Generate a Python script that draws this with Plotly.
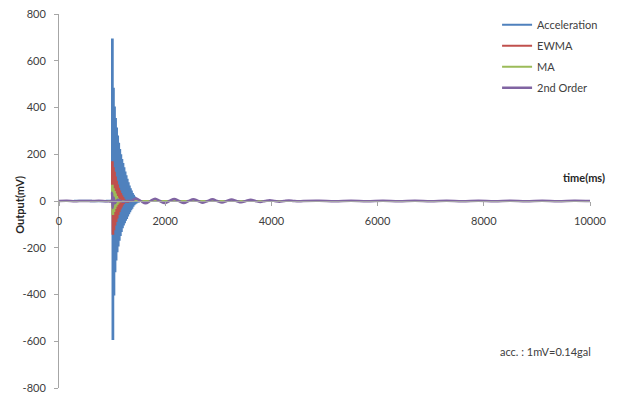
import plotly.graph_objects as go

# ---------------- data ----------------
acc_t = [0, 300, 600, 900, 990, 1000, 1010, 1020, 1030, 1040, 1050, 1060, 1070, 1080, 1090,
         1100, 1110, 1120, 1130, 1140, 1150, 1160, 1170, 1180, 1190, 1200, 1210, 1220, 1230,
         1240, 1250, 1260, 1270, 1280, 1290, 1300, 1310, 1320, 1330, 1340, 1350, 1360, 1370,
         1380, 1390, 1400, 1410, 1420, 1430, 1440, 1450, 1460, 1470, 1500, 3000, 6000, 10000]
acc_v = [0, 1, -1, 1, 0, 690, -590, 480, -400, 400, -300, 350, -250, 310, -215,
         275, -190, 245, -165, 218, -145, 195, -128, 175, -112, 158, -100, 140, -90,
         122, -80, 105, -72, 90, -62, 75, -52, 62, -43, 50, -35, 40, -28,
         30, -20, 22, -14, 15, -9, 10, -6, 5, -3, 0, 0, 0, 0]

ewma_t = [0, 990, 1000, 1010, 1020, 1030, 1040, 1050, 1060, 1070, 1080, 1090, 1100, 1110,
          1120, 1130, 1140, 1150, 1160, 1170, 1180, 1190, 1200, 1210, 1220, 1230, 1300, 10000]
ewma_v = [0, 0, 165, -140, 140, -120, 120, -100, 100, -85, 82, -70, 66, -55,
          52, -42, 40, -32, 30, -23, 20, -15, 12, -8, 5, -3, 0, 0]

ma_t = [0, 990, 1000, 1010, 1020, 1030, 1040, 1050, 1060, 1070, 1080, 1090, 1100, 1110,
        1120, 1130, 1200, 10000]
ma_v = [0, 0, 65, -55, 50, -42, 38, -30, 27, -20, 17, -12, 9, -6, 4, -2, 0, 0]

so_t = [0, 150, 300, 450, 600, 750, 900, 990, 1000, 1010, 1030, 1050, 1100, 1200, 1300,
        1360, 1450, 1540, 1630, 1720, 1810, 1900, 1990, 2080, 2170, 2260, 2350, 2440,
        2530, 2620, 2710, 2800, 2890, 2980, 3070, 3160, 3250, 3340, 3430, 3520, 3610,
        3700, 3790, 3880, 3970, 4060, 4150, 4240, 4330, 4420, 4510, 4600,
        4900, 5200, 5500, 5800, 6100, 6400, 6700, 7000, 7300, 7600, 7900, 8200,
        8500, 8800, 9100, 9400, 9700, 10000]
so_v = [0, 1, -1, 0.5, -0.5, 1, -1, 0, 35, -30, 15, -10, 5, -3, 1,
        0, 11, 0, -10, 0, 10, 0, -9, 0, 9, 0, -8.5, 0,
        8, 0, -7.5, 0, 7, 0, -6.5, 0, 6, 0, -5.5, 0, 5,
        0, -4, 0, 3.5, 0, -3, 0, 2.5, 0, -1.5, 0,
        1, -1, 1.5, -1, 1, -1.5, 1, -1, 1, -1, 1.5, -1,
        1, -1, 1, -1, 1, 0]

series_names = ["Acceleration", "EWMA", "MA", "2nd Order"]
series_colors = ["#4F81BD", "#C0504D", "#9BBB59", "#8064A2"]

x_ticks = [0, 2000, 4000, 6000, 8000, 10000]
y_ticks = [-800, -600, -400, -200, 0, 200, 400, 600, 800]

# ---------------- figure ----------------
# the page body keeps its default 8px margin, so the figure is sized to the
# visible 611x386 area and the margins are offset by 8px.
FONT = "Lato, 'Open Sans', sans-serif"
fig = go.Figure()
for name, color, t, v, w, shape in [
    (series_names[0], series_colors[0], acc_t, acc_v, 2.2, "hv"),
    (series_names[1], series_colors[1], ewma_t, ewma_v, 2.2, "hv"),
    (series_names[2], series_colors[2], ma_t, ma_v, 2.2, "hv"),
    (series_names[3], series_colors[3], so_t, so_v, 2.5, "spline"),
]:
    fig.add_trace(go.Scatter(x=t, y=v, mode="lines", name=name, legendgroup=name,
                             line=dict(color=color, width=w, simplify=False, shape=shape)))

fig.update_layout(
    width=611, height=386,
    margin=dict(l=51, r=29, t=6, b=6, autoexpand=False),
    paper_bgcolor="white", plot_bgcolor="white",
    font=dict(family=FONT, size=11, color="#404040"),
    showlegend=True,
    legend=dict(x=0.825, y=1.01, xanchor="left", yanchor="top",
                bgcolor="rgba(0,0,0,0)", itemwidth=30,
                font=dict(family=FONT, size=11, color="#404040"),
                tracegroupgap=2),
    xaxis=dict(range=[0, 10000], tickvals=x_ticks, ticktext=[str(v) for v in x_ticks],
               showgrid=False, zeroline=False, showline=True, linecolor="#A6A6A6",
               ticks="outside", ticklen=4, tickcolor="#A6A6A6", automargin=False,
               anchor="free", position=0.5, ticklabelstandoff=6,
               ticklabeloverflow="allow"),
    yaxis=dict(range=[-800, 800], tickvals=y_ticks, ticktext=[str(v) for v in y_ticks],
               showgrid=False, zeroline=False, showline=True, linecolor="#A6A6A6",
               ticks="outside", ticklen=4, tickcolor="#A6A6A6", ticklabelstandoff=6,
               automargin=False, ticklabeloverflow="allow"),
    annotations=[
        dict(text="<b>Output(mV)</b>", xref="paper", yref="paper", x=-0.0734, y=0.49,
             xanchor="center", yanchor="middle",
             textangle=-90, showarrow=False, font=dict(size=11, color="#262626")),
        dict(text="<b>time(ms)</b>", xref="paper", yref="paper", x=1.032, y=0.5615,
             xanchor="right", yanchor="middle",
             showarrow=False, font=dict(size=11, color="#262626")),
        dict(text="acc. : 1mV=0.14gal", xref="paper", yref="paper", x=1.006, y=0.0989,
             xanchor="right", yanchor="middle",
             showarrow=False, font=dict(size=11, color="#404040")),
    ],
)

fig.write_html("out.html")
